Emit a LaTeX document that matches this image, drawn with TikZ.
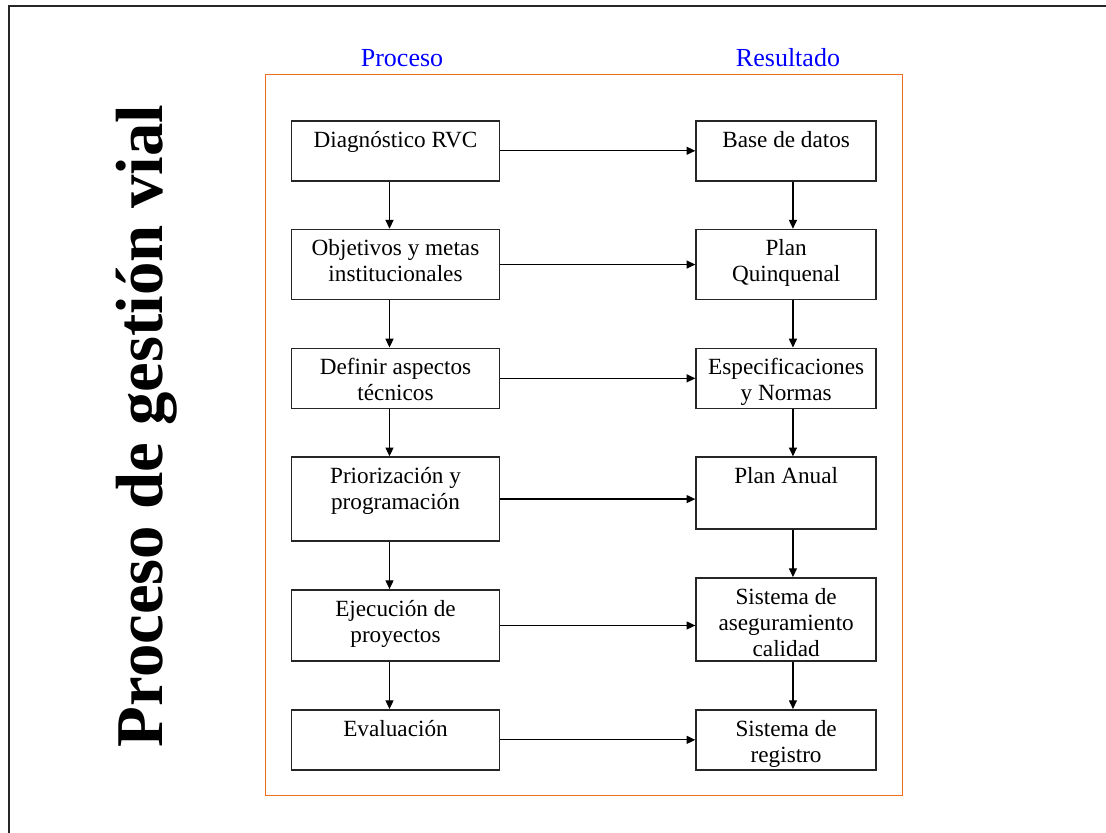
\documentclass[tikz,border=0pt]{standalone}
\usepackage{fontspec}
\setmainfont{Liberation Serif}
\usetikzlibrary{arrows.meta,positioning}
\definecolor{marco}{RGB}{240,110,30}
\definecolor{azul}{RGB}{0,0,255}
\tikzset{
	caja/.style  = {rectangle,draw=black!85,line width=1.1pt,
		minimum width=5.2cm,minimum height=1.5cm,inner sep=0pt},
	cajar/.style = {caja,minimum width=4.5cm},
	txt/.style   = {anchor=north,align=center,inner sep=0.27cm,
		font=\fontsize{16.5}{18.5}\selectfont},
	tit/.style   = {anchor=base,text=azul,font=\fontsize{18.5}{20}\selectfont},
	arr/.style   = {-{Triangle[length=0.22cm,width=0.2cm]},line width=0.9pt},
}
\begin{document}
\begin{tikzpicture}[x=0.025cm,y=-0.025cm,node distance=1.18cm]
		\useasboundingbox (0,0) rectangle (1106,833);
		%% Marco exterior
		\draw[line width=1.4pt,black!85] (9,833) -- (9,6) -- (1106,6);
		
		%% Titulo
		\node (titulo) [rotate=90,anchor=base,
		font=\fontsize{47.5}{50}\selectfont\bfseries] at (162,426)
		{Proceso de gestión vial};
		
		%% Cabeceras
		\node (hproc) [tit] at (402,67) {Proceso};
		\node (hres)  [tit] at (788,67) {Resultado};
		\draw[marco,line width=0.7pt] (265,74) rectangle (902,795);
		
		%% Columna Proceso
		\node (diag) [caja,anchor=north,
		label={[txt]north:Diagnóstico RVC}] at (395.5,120) {};
		\node (obj)  [caja,below=of diag,minimum height=1.75cm,
		label={[txt]north:Objetivos y metas\\institucionales}] {};
		\node (def)  [caja,below=of obj,
		label={[txt]north:Definir aspectos\\técnicos}] {};
		\node (prio) [caja,below=of def,minimum height=2.1cm,
		label={[txt]north:Priorización y\\programación}] {};
		\node (ejec) [caja,below=of prio,minimum height=1.78cm,
		label={[txt]north:Ejecución de\\proyectos}] {};
		\node (eval) [caja,below=of ejec,
		label={[txt]north:Evaluación}] {};
		
		%% Columna Resultado
		\node (base)  [cajar,right=4.875cm of diag,
		label={[txt]north:Base de datos}] {};
		\node (quin)  [cajar,below=of base,minimum height=1.75cm,
		label={[txt]north:Plan\\Quinquenal}] {};
		\node (esp)   [cajar,below=of quin,
		label={[txt]north:Especificaciones\\y Normas}] {};
		\node (anual) [cajar,below=of esp,minimum height=1.8cm,
		label={[txt]north:Plan Anual}] {};
		\node (aseg)  [cajar,below=of anual,minimum height=2.08cm,
		label={[txt]north:Sistema de\\aseguramiento\\calidad}] {};
		\node (reg)   [cajar,below=of aseg,
		label={[txt]north:Sistema de\\registro}] {};
		
		%% Flechas
		\foreach \a/\b in {diag/obj,obj/def,def/prio,prio/ejec,ejec/eval}
		\draw[arr] ([xshift=-0.15cm]\a.south) -- ([xshift=-0.15cm]\b.north);
		\foreach \a/\b in {base/quin,quin/esp,esp/anual,anual/aseg,aseg/reg}
		\draw[arr] ([xshift=0.17cm]\a.south) -- ([xshift=0.17cm]\b.north);
		\foreach \a/\b in {diag/base,obj/quin,def/esp,prio/anual,ejec/aseg,eval/reg}
		\draw[arr] (\a.east) -- (\a.east -| \b.west);
	\end{tikzpicture}
\end{document}
